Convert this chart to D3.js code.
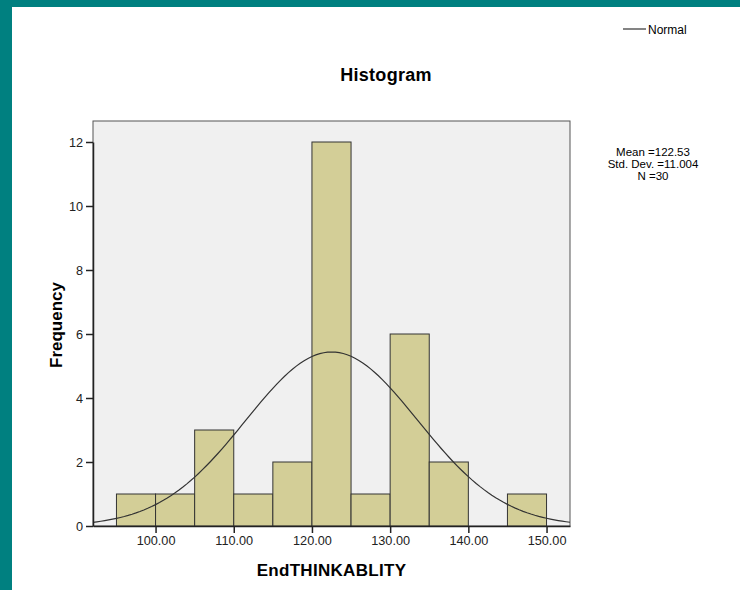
<!DOCTYPE html>
<html>
<head>
<meta charset="utf-8">
<script src="https://cdn.jsdelivr.net/npm/d3@7"></script>
<style>
  body { margin: 0; background: #008080; }
  svg { display: block; font-family: "Liberation Sans", Arial, sans-serif; }
</style>
</head>
<body>
<script>
// histogram bins (lower edges) and counts
const binStarts = [95, 100, 105, 110, 115, 120, 125, 130, 135, 140, 145];
const binWidth = 5;
const counts = [1, 1, 3, 1, 2, 12, 1, 6, 2, 0, 1];
const xTicks = [100, 110, 120, 130, 140, 150];
const yTicks = [0, 2, 4, 6, 8, 10, 12];
const stats = ['Mean =122.53', 'Std. Dev. =11.004', 'N =30'];
const mean = 122.53, sd = 11.004, n = 30;

const svg = d3.select('body').append('svg')
  .attr('width', 740)
  .attr('height', 590);

// white page inside teal frame
svg.append('rect')
  .attr('x', 12).attr('y', 7)
  .attr('width', 728).attr('height', 583)
  .attr('fill', '#fff');

const plotL = 93, plotR = 570, plotT = 121, plotB = 526;

const x = d3.scaleLinear().domain([92, 153]).range([plotL, plotR]);
const y = d3.scaleLinear().domain([0, 12]).range([plotB, 142]);

svg.append('rect')
  .attr('x', plotL).attr('y', plotT)
  .attr('width', plotR - plotL).attr('height', plotB - plotT)
  .attr('fill', '#f0f0f0')
  .attr('stroke', '#555')
  .attr('stroke-width', 1);

svg.append('g').selectAll('rect')
  .data(binStarts.map((b, i) => ({ b, c: counts[i] })).filter(d => d.c > 0))
  .enter()
  .append('rect')
  .attr('x', d => x(d.b))
  .attr('y', d => y(d.c))
  .attr('width', d => x(d.b + binWidth) - x(d.b))
  .attr('height', d => y(0) - y(d.c))
  .attr('fill', '#d3ce97')
  .attr('stroke', '#333')
  .attr('stroke-width', 1);

// fitted normal curve scaled to counts
const pdf = v => n * binWidth * Math.exp(-0.5 * ((v - mean) / sd) ** 2) / (sd * Math.sqrt(2 * Math.PI));
const curveX = d3.range(92, 153.01, 0.5);
svg.append('path')
  .datum(curveX)
  .attr('fill', 'none')
  .attr('stroke', '#333')
  .attr('stroke-width', 1.2)
  .attr('d', d3.line().x(d => x(d)).y(d => y(pdf(d))));

// axes
const xAxis = svg.append('g')
  .attr('transform', `translate(0,${plotB})`)
  .call(d3.axisBottom(x).tickValues(xTicks).tickFormat(d3.format('.2f')).tickSize(7).tickSizeOuter(0));
const yAxis = svg.append('g')
  .attr('transform', `translate(${plotL},0)`)
  .call(d3.axisLeft(y).tickValues(yTicks).tickSize(7).tickSizeOuter(0));

[xAxis, yAxis].forEach(g => {
  g.select('.domain').attr('stroke', '#222').attr('stroke-width', 1.5);
  g.selectAll('.tick line').attr('stroke', '#222').attr('stroke-width', 1.5);
  g.selectAll('text')
    .attr('font-family', '"Liberation Sans", Arial, sans-serif')
    .attr('font-size', 12.7)
    .attr('fill', '#222');
});
yAxis.selectAll('text').attr('dy', '0.36em');

svg.append('text')
  .attr('x', 386).attr('y', 81)
  .attr('text-anchor', 'middle')
  .attr('font-size', 18).attr('font-weight', 'bold')
  .attr('letter-spacing', 0.3)
  .text('Histogram');

svg.append('text')
  .attr('x', (plotL + plotR) / 2).attr('y', 576)
  .attr('text-anchor', 'middle')
  .attr('font-size', 17).attr('font-weight', 'bold')
  .attr('letter-spacing', 0.3)
  .text('EndTHINKABLITY');

svg.append('text')
  .attr('transform', `translate(62,325) rotate(-90)`)
  .attr('text-anchor', 'middle')
  .attr('font-size', 17).attr('font-weight', 'bold')
  .text('Frequency');

// legend
svg.append('line')
  .attr('x1', 623).attr('x2', 646)
  .attr('y1', 29).attr('y2', 29)
  .attr('stroke', '#333').attr('stroke-width', 1.2);
svg.append('text')
  .attr('x', 648).attr('y', 34)
  .attr('font-size', 12)
  .text('Normal');

svg.append('g').selectAll('text')
  .data(stats)
  .enter()
  .append('text')
  .attr('x', 653)
  .attr('y', (d, i) => 156 + i * 12)
  .attr('text-anchor', 'middle')
  .attr('font-size', 11.5)
  .text(d => d);
</script>
</body>
</html>
